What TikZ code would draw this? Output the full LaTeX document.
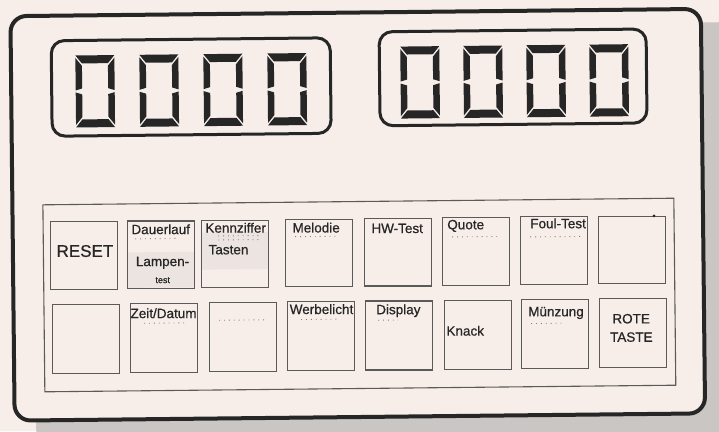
\documentclass[tikz,border=0pt]{standalone}
\usepackage{fontspec}
\setmainfont{Liberation Sans}
\newfontfamily\lblfont{Liberation Sans}[FakeBold=0.7]
\definecolor{paper}{HTML}{F8EEE9}
\definecolor{shadowc}{HTML}{C9C6C3}
\definecolor{ink}{HTML}{262626}
\definecolor{keyline}{HTML}{5A5A5A}
\definecolor{stip}{HTML}{ECE4E0}
\tikzset{
  keybox/.style={draw=keyline, line width=1.1pt, minimum width=67pt, minimum height=67.5pt, inner sep=0pt, anchor=north west},
  keybox2/.style={keybox, minimum height=69pt},
  lbl/.style={font=\lblfont\fontsize{13.5}{15}\selectfont, text=ink, inner sep=0pt, anchor=base},
  lblw/.style={lbl, anchor=base west},
  dots/.style={draw=gray, line width=0.9pt, dash pattern=on 0.9pt off 4pt},
  seg/.style={fill=ink},
  frame/.style={draw=ink, line width=4pt, rounded corners=16},
  dispframe/.style={draw=ink, line width=3pt, rounded corners=13},
}
\newcommand\segzero[2]{%
  \begin{scope}[shift={(#1,#2)}]
    \fill[seg] (0,0)--(39,0)--(32.5,8)--(6.5,8)--cycle;
    \fill[seg] (0,72)--(39,72)--(32.5,64)--(6.5,64)--cycle;
    \fill[seg] (0,2.5)--(6.5,10.5)--(6.5,33)--(0,35)--cycle;
    \fill[seg] (0,37)--(6.5,39)--(6.5,61.5)--(0,69.5)--cycle;
    \fill[seg] (39,2.5)--(32.5,10.5)--(32.5,33)--(39,35)--cycle;
    \fill[seg] (39,37)--(32.5,39)--(32.5,61.5)--(39,69.5)--cycle;
  \end{scope}}
\begin{document}
\begin{tikzpicture}[x=1pt,y=-1pt]
\useasboundingbox (0,0) rectangle (719,431);
\fill[paper] (0,0) rectangle (719,431);
\begin{scope}[rotate around={0.6:(360,215)}]
  % shadow and outer casing
  \fill[shadowc, rounded corners=16] (34,26) rectangle (760,460);
  \draw[frame, fill=paper] (12.5,12.5) rectangle (703,417);
  % displays
  \draw[dispframe] (53,37.5) rectangle (332,133);
  \draw[dispframe] (381,32) rectangle (648,126);
  \segzero{77}{52.5}
  \segzero{141}{52.5}
  \segzero{205}{52.5}
  \segzero{269}{52.5}
  \segzero{402}{47}
  \segzero{465}{47}
  \segzero{528}{47}
  \segzero{591}{47}
  % keyboard panel
  \draw[keyline, line width=1.1pt] (43,201.5) rectangle (674,388.5);
  % shaded areas
  \fill[stip] (127,250) rectangle (194,285.5);
  \fill[stip] (201,231) rectangle (268,268);
  % row 1
  \node[keybox] (k1) at (50,218) {};
  \node[keybox] (k2) at (127,218) {};
  \node[keybox] (k3) at (201,218) {};
  \node[keybox] (k4) at (285,218) {};
  \node[keybox] (k5) at (364,218) {};
  \node[keybox] (k6) at (442,218) {};
  \node[keybox] (k7) at (520,218) {};
  \node[keybox] (k8) at (598,218) {};
  % row 2
  \node[keybox2] (m1) at (51,300.5) {};
  \node[keybox2] (m2) at (129,300.5) {};
  \node[keybox2] (m3) at (208,300.5) {};
  \node[keybox2] (m4) at (286,300.5) {};
  \node[keybox2] (m5) at (364,300.5) {};
  \node[keybox2] (m6) at (443,300.5) {};
  \node[keybox2] (m7) at (520,300.5) {};
  \node[keybox2] (m8) at (598,300.5) {};
  % labels row 1
  \node[lbl, font=\lblfont\fontsize{17}{19}\selectfont] (tReset) at (84.5,254) {RESET};
  \node[lbl] (tDauer) at (160.5,232) {Dauerlauf};
  \draw[dots] (135,236.5) -- (177,236.5);
  \node[lbl] (tLamp) at (162,264) {Lampen-};
  \node[lbl, font=\lblfont\fontsize{9}{10}\selectfont] (tTest) at (162,281) {test};
  \node[lblw] (tKenn) at (205,231) {Kennziffer};
  \draw[dots] (218,234.5) -- (259,234.5);
  \draw[dots] (218,238.5) -- (259,238.5);
  \node[lblw] (tTasten) at (208,252.7) {Tasten};
  \node[lbl] (tMel) at (316,232) {Melodie};
  \draw[dots] (295,236) -- (338,236);
  \node[lbl] (tHW) at (397,233.4) {HW-Test};
  \node[lblw] (tQuote) at (447,230.2) {Quote};
  \draw[dots] (452,237.9) -- (498,237.9);
  \node[lblw] (tFoul) at (530,230) {Foul-Test};
  \draw[dots] (530,238.7) -- (580,238.7);
  \fill[ink] (654,219) circle (1.5);
  % labels row 2
  \node[lbl] (tZeit) at (162.5,316) {Zeit/Datum};
  \draw[dots] (143,321) -- (183,321);
  \draw[dots] (218,318.8) -- (267,318.8);
  \node[lbl] (tWerbe) at (320.5,313.6) {Werbelicht};
  \draw[dots] (300,318.9) -- (337,318.9);
  \node[lblw] (tDisp) at (375,314.4) {Display};
  \draw[dots] (377,320.4) -- (397,320.4);
  \node[lblw] (tKnack) at (445,336.5) {Knack};
  \node[lblw] (tMuenz) at (527,318) {Münzung};
  \draw[dots] (530,325.3) -- (563,325.3);
  \node[lbl] (tRote) at (630,326.2) {ROTE};
  \node[lbl] (tTaste) at (630,344.6) {TASTE};
\end{scope}
\end{tikzpicture}
\end{document}
